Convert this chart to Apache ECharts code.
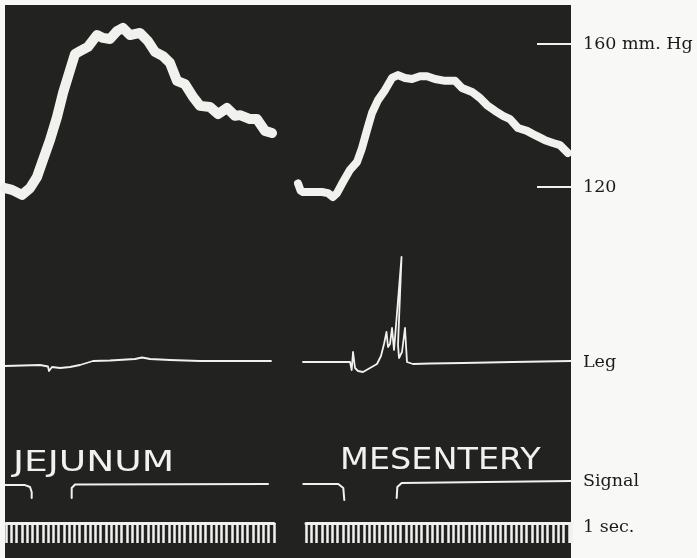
<!DOCTYPE html>
<html><head><meta charset="utf-8">
<script src="https://cdn.jsdelivr.net/npm/echarts@6/dist/echarts.min.js"></script>
<style>html,body{margin:0;padding:0;background:#f8f8f6}#c{width:697px;height:558px}</style>
</head><body><div id="c"></div>
<script>
// ---- data (time in seconds, pressure in mm Hg, leg / signal in arbitrary units) ----
const panelNames = ['JEJUNUM', 'MESENTERY'];
const pressureTicks = [120, 160];
const pressureUnit = 'mm. Hg';
const channelLabels = ['Leg', 'Signal', '1 sec.'];

const jejunumPressure = [[0,119.7],[1.33,119.2],[3.24,117.8],[4.76,119.7],[6.09,122.8],[7.23,127.6],[8.56,133.1],[9.90,139.6],[11.04,146.3],[12.37,152.7],[13.32,157.2],[14.27,158.0],[15.79,159.2],[17.51,162.5],[18.65,161.7],[19.98,161.4],[21.31,163.6],[22.45,164.5],[23.79,162.5],[25.69,163.1],[27.21,160.8],[28.54,157.8],[30.07,156.6],[31.40,154.7],[32.73,149.7],[34.25,148.8],[35.78,145.2],[37.11,142.7],[39.01,142.4],[40.53,140.4],[42.25,142.1],[43.77,139.9],[44.72,140.1],[46.62,139.0],[47.95,139.0],[49.48,135.7],[50.81,135.1]];
const mesenteryPressure = [[0,121.0],[0.5,119.0],[0.95,118.6],[2.66,118.6],[4.57,118.6],[5.71,118.3],[6.66,117.2],[7.42,118.3],[8.56,121.4],[9.90,124.8],[11.23,127.0],[12.18,130.9],[13.13,135.9],[14.08,140.7],[15.22,144.3],[16.56,147.1],[17.89,150.5],[19.03,151.3],[20.36,150.5],[21.69,150.2],[23.22,151.0],[24.55,151.0],[26.07,150.2],[27.97,149.7],[29.88,149.7],[31.21,147.7],[33.11,146.6],[34.63,144.9],[35.97,142.9],[37.49,141.3],[39.01,139.9],[40.34,139.0],[41.86,136.5],[43.58,135.7],[45.10,134.5],[47.00,133.1],[48.53,132.3],[49.86,131.7],[51.38,129.5]];

const jejunumLeg = [[0,-4],[6.66,-3],[8.18,-4.5],[8.37,-9],[8.75,-9],[8.94,-5],[10.47,-6],[12.37,-5],[14.27,-3],[16.75,1],[19.98,1.5],[24.74,3],[26.07,4.5],[27.59,3],[31.40,2],[37.11,1],[44.72,1],[50.62,1]];
const mesenteryLeg = [[0.95,0],[9.90,0],[10.22,-8],[10.47,10],[10.85,-6],[11.42,-9],[12.37,-10],[13.70,-6],[15.03,-2],[15.79,6],[16.37,18],[16.84,30],[17.13,15],[17.51,18],[17.89,34],[18.27,12],[19.70,105],[19.03,17],[19.22,4],[19.79,10],[20.36,34],[20.74,0],[21.88,-2],[25.12,-1.5],[31.40,-1],[40.91,0],[51.95,1]];

const jejunumSignal = [
  [[0,0.76],[3.81,0.76],[4.76,0.65],[5.08,0.35],[5.08,0]],
  [[12.69,0],[12.69,0.59],[13.32,0.79],[50.05,0.82]]
];
const mesenterySignal = [
  [[1.01,0.82],[7.67,0.82],[8.62,0.59],[8.81,-0.12]],
  [[18.78,0],[18.90,0.65],[19.73,0.88],[51.95,1.0]]
];

// ---- layout ----
const PX_PER_SEC = 5.255;
const INK = '#f1f1ee';
const TEXT = '#1a1a1a';
const SERIF = '"DejaVu Serif", serif';
const panels = [
  {left:5,   width:268, timerLeft:6,   timerWidth:268, pressure:jejunumPressure,   leg:jejunumLeg,   signal:jejunumSignal,   pw:10, right:false},
  {left:298, width:273, timerLeft:306, timerWidth:265, pressure:mesenteryPressure, leg:mesenteryLeg, signal:mesenterySignal, pw:8, right:true}
];
const rows = {
  pressure:{top:44,  height:143, min:120, max:160, interval:40},
  leg:     {top:262, height:100, min:0,   max:100, interval:100},
  signal:  {top:481, height:17,  min:0,   max:1,   interval:1},
  timer:   {top:523, height:8,   min:0,   max:2,   interval:1}
};

const grid = [], xAxis = [], yAxis = [], series = [];
const labelBase = {color:TEXT, fontFamily:SERIF, fontSize:17.5, margin:12};

panels.forEach(p => {
  const idx = {};
  Object.keys(rows).forEach(name => {
    const r = rows[name];
    const isTimer = name === 'timer';
    const left = isTimer ? p.timerLeft : p.left;
    const width = isTimer ? p.timerWidth : p.width;
    const g = grid.length;
    idx[name] = g;
    grid.push({left, width, top:r.top, height:r.height, show:false, containLabel:false});
    if (isTimer) {
      xAxis.push({gridIndex:g, type:'value', min:0, max:width/PX_PER_SEC, interval:1, position:'top',
        axisLine:{show:true, onZero:false, lineStyle:{color:INK, width:3}},
        axisTick:{show:true, inside:true, length:20, lineStyle:{color:INK, width:2.5}},
        axisLabel:{show:false}, splitLine:{show:false}});
    } else {
      xAxis.push({gridIndex:g, type:'value', min:0, max:width/PX_PER_SEC, show:false, axisLine:{onZero:false}});
    }
    let fmt = () => '';
    if (name === 'pressure') fmt = v => v === pressureTicks[1] ? v + ' ' + pressureUnit : (pressureTicks.includes(v) ? String(v) : '');
    if (name === 'leg') fmt = v => v === 0 ? channelLabels[0] : '';
    if (name === 'signal') fmt = v => v === 1 ? channelLabels[1] : '';
    if (name === 'timer') fmt = v => v === 1 ? channelLabels[2] : '';
    const lab = Object.assign({}, labelBase, {formatter:fmt, show:p.right});
    yAxis.push({gridIndex:g, type:'value', min:r.min, max:r.max, interval:r.interval, position:'right',
      axisLine:{show:false, onZero:false}, splitLine:{show:false},
      axisTick:{show: p.right && name === 'pressure', inside:true, length:34, lineStyle:{color:INK, width:2}},
      axisLabel:lab});
  });
  const line = (data, g, w) => ({type:'line', data, xAxisIndex:g, yAxisIndex:g, showSymbol:false, symbol:'none',
    clip:false, silent:true, animation:false, z:3,
    lineStyle:{color:INK, width:w, cap:'round', join:'round'}});
  series.push(line(p.pressure, idx.pressure, p.pw));
  series.push(line(p.leg, idx.leg, 1.8));
  p.signal.forEach(seg => series.push(line(seg, idx.signal, 2)));
});

const chart = echarts.init(document.getElementById('c'), null, {renderer:'canvas'});
chart.setOption({
  backgroundColor:'#f8f8f6',
  animation:false,
  grid, xAxis, yAxis, series,
  graphic:[
    {type:'rect', z:-1, shape:{x:5, y:5, width:566, height:553}, style:{fill:'#222221'}},
    {type:'text', z:5, x:13, y:464, scaleX:1.34,
      style:{text:panelNames[0], fill:INK, font:'28px "DejaVu Sans", sans-serif', textAlign:'left', textVerticalAlign:'middle', align:'left', verticalAlign:'middle'}},
    {type:'text', z:5, x:340, y:461, scaleX:1.08,
      style:{text:panelNames[1], fill:INK, font:'31px "DejaVu Sans", sans-serif', textAlign:'left', textVerticalAlign:'middle', align:'left', verticalAlign:'middle'}}
  ]
});
</script></body></html>
